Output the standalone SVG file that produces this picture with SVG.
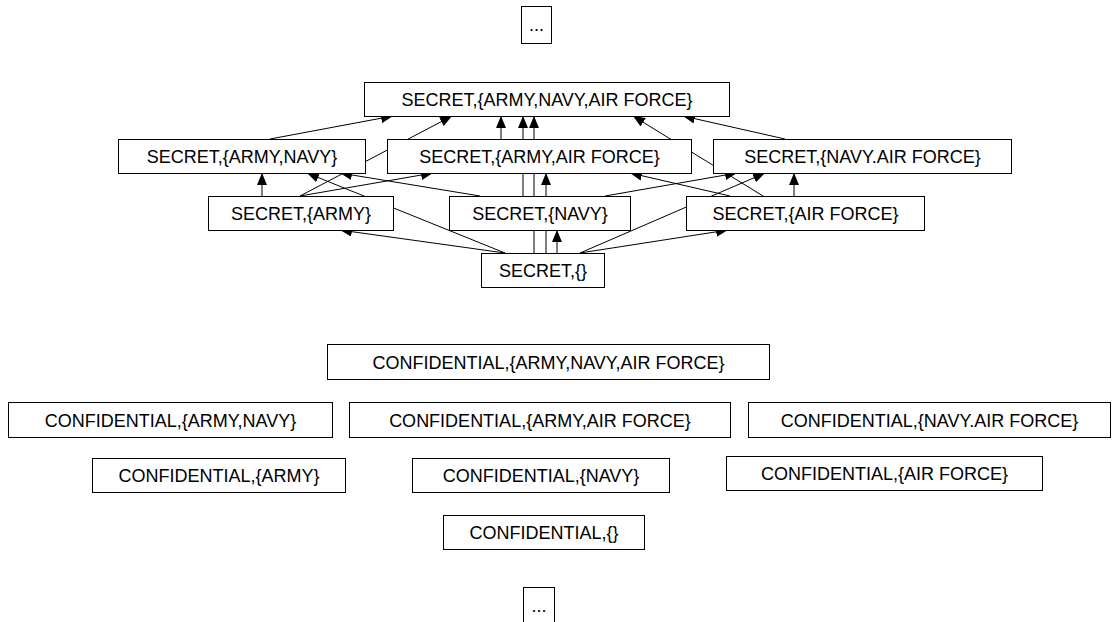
<svg xmlns="http://www.w3.org/2000/svg" width="1116" height="622" viewBox="0 0 1116 622">
<style>
.box{fill:#fff;stroke:#000;stroke-width:1}
.lbl{font-family:"Liberation Sans",Arial,sans-serif;font-size:18px;fill:#000;text-anchor:middle}
.edge{stroke:#000;stroke-width:1;fill:none;marker-end:url(#arr)}
</style>
<defs>
<marker id="arr" markerUnits="userSpaceOnUse" markerWidth="12" markerHeight="10" refX="12" refY="5" orient="auto">
<path d="M0,0 L12,5 L0,10 z" fill="#000"/>
</marker>
</defs>
<rect width="1116" height="622" fill="#fff"/>
<g id="connectors">
<line class="edge" x1="505" y1="253" x2="340" y2="230"/>
<line class="edge" x1="557" y1="253" x2="557" y2="230"/>
<line class="edge" x1="580" y1="253" x2="728" y2="230"/>
<line class="edge" x1="505" y1="253" x2="307" y2="173"/>
<line class="edge" x1="546" y1="253" x2="546" y2="173"/>
<line class="edge" x1="580" y1="253" x2="765" y2="173"/>
<line class="edge" x1="534" y1="253" x2="534" y2="116"/>
<line class="edge" x1="262" y1="196" x2="262" y2="173"/>
<line class="edge" x1="300" y1="196" x2="433" y2="173"/>
<line class="edge" x1="300" y1="196" x2="452" y2="116"/>
<line class="edge" x1="480" y1="196" x2="340" y2="173"/>
<line class="edge" x1="605" y1="196" x2="737" y2="173"/>
<line class="edge" x1="523" y1="196" x2="523" y2="116"/>
<line class="edge" x1="730" y1="196" x2="630" y2="173"/>
<line class="edge" x1="794" y1="196" x2="794" y2="173"/>
<line class="edge" x1="763" y1="196" x2="633" y2="116"/>
<line class="edge" x1="270" y1="139" x2="393" y2="116"/>
<line class="edge" x1="501" y1="139" x2="501" y2="116"/>
<line class="edge" x1="785" y1="139" x2="683" y2="116"/>
</g>
<g id="dots_top"><rect class="box" x="521.5" y="6.5" width="30" height="37"/><text class="lbl" x="536.5" y="31">...</text></g>
<g id="s_army_navy_airforce"><rect class="box" x="364.5" y="82.5" width="365" height="34"/><text class="lbl" x="547" y="106">SECRET,{ARMY,NAVY,AIR FORCE}</text></g>
<g id="s_army_navy"><rect class="box" x="118.5" y="139.5" width="247" height="34"/><text class="lbl" x="242" y="163">SECRET,{ARMY,NAVY}</text></g>
<g id="s_army_airforce"><rect class="box" x="387.5" y="139.5" width="304" height="34"/><text class="lbl" x="539.5" y="163">SECRET,{ARMY,AIR FORCE}</text></g>
<g id="s_navy_airforce"><rect class="box" x="713.5" y="139.5" width="298" height="34"/><text class="lbl" x="862.5" y="163">SECRET,{NAVY.AIR FORCE}</text></g>
<g id="s_army"><rect class="box" x="208.5" y="196.5" width="185" height="34"/><text class="lbl" x="301" y="220">SECRET,{ARMY}</text></g>
<g id="s_navy"><rect class="box" x="449.5" y="196.5" width="181" height="34"/><text class="lbl" x="540" y="220">SECRET,{NAVY}</text></g>
<g id="s_airforce"><rect class="box" x="686.5" y="196.5" width="238" height="34"/><text class="lbl" x="805.5" y="220">SECRET,{AIR FORCE}</text></g>
<g id="s_empty"><rect class="box" x="481.5" y="253.5" width="123" height="34"/><text class="lbl" x="543" y="277">SECRET,{}</text></g>
<g id="c_army_navy_airforce"><rect class="box" x="327.5" y="344.5" width="442" height="35"/><text class="lbl" x="548.5" y="368.5">CONFIDENTIAL,{ARMY,NAVY,AIR FORCE}</text></g>
<g id="c_army_navy"><rect class="box" x="8.5" y="402.5" width="324" height="35"/><text class="lbl" x="170.5" y="426.5">CONFIDENTIAL,{ARMY,NAVY}</text></g>
<g id="c_army_airforce"><rect class="box" x="349.5" y="402.5" width="381" height="35"/><text class="lbl" x="540" y="426.5">CONFIDENTIAL,{ARMY,AIR FORCE}</text></g>
<g id="c_navy_airforce"><rect class="box" x="748.5" y="402.5" width="362" height="35"/><text class="lbl" x="929.5" y="426.5">CONFIDENTIAL,{NAVY.AIR FORCE}</text></g>
<g id="c_army"><rect class="box" x="92.5" y="458.5" width="253" height="34"/><text class="lbl" x="219" y="482">CONFIDENTIAL,{ARMY}</text></g>
<g id="c_navy"><rect class="box" x="412.5" y="458.5" width="257" height="34"/><text class="lbl" x="541" y="482">CONFIDENTIAL,{NAVY}</text></g>
<g id="c_airforce"><rect class="box" x="726.5" y="456.5" width="316" height="34"/><text class="lbl" x="884.5" y="480">CONFIDENTIAL,{AIR FORCE}</text></g>
<g id="c_empty"><rect class="box" x="443.5" y="515.5" width="201" height="34"/><text class="lbl" x="544" y="539">CONFIDENTIAL,{}</text></g>
<g id="dots_bottom"><rect class="box" x="523.5" y="587.5" width="31" height="40"/><text class="lbl" x="539" y="612">...</text></g>
</svg>
